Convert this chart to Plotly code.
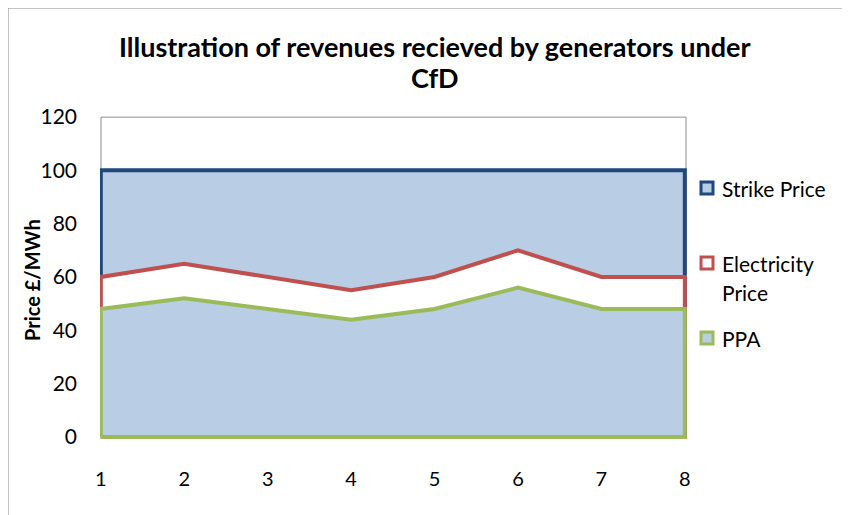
import plotly.graph_objects as go

periods = [1, 2, 3, 4, 5, 6, 7, 8]
strike_price = [100, 100, 100, 100, 100, 100, 100, 100]
electricity_price = [60, 65, 60, 55, 60, 70, 60, 60]
ppa = [48, 52, 48, 44, 48, 56, 48, 48]
y_ticks = [0, 20, 40, 60, 80, 100, 120]

series = [
    ("Strike Price", strike_price, "#B9CDE5", "#1F497D"),
    ("Electricity Price", electricity_price, "#FFFFFF", "#C0504D"),
    ("PPA", ppa, "#B9CDE5", "#9BBB59"),
]

fig = go.Figure()
for name, vals, fillc, linec in series:
    xs = [periods[0]] + periods + [periods[-1], periods[0]]
    ys = [0] + vals + [0, 0]
    fig.add_trace(go.Scatter(
        x=xs, y=ys, mode="lines", fill="toself", fillcolor=fillc,
        line=dict(color=linec, width=4), name=name, showlegend=False,
        hoverinfo="skip",
    ))

font_family = "Lato, 'Open Sans', sans-serif"

OFF = 8  # page body margin
W, H = 850 - OFF, 515 - OFF
# plot area in page pixels
L, R, T, B = 100, 689, 117, 441
def px(xp):
    return (xp - L) / (R - L)
def py(yp):
    return (B - yp) / (B - T)

legend_rows = [(188, ["Strike Price"]), (263, ["Electricity", "Price"]), (338, ["PPA"])]
shapes = [
    dict(type="rect", xref="paper", yref="paper", x0=px(101), x1=px(686), y0=py(437), y1=0.9995,
         line=dict(color="#8C8C8C", width=1), layer="below"),
    dict(type="rect", xref="paper", yref="paper", x0=px(8), x1=px(1000), y0=py(700), y1=py(8),
         line=dict(color="#8C8C8C", width=1), layer="below"),
]
annotations = []
for (name, vals, fillc, linec), (yc, lines) in zip(series, legend_rows):
    shapes.append(dict(type="rect", xref="paper", yref="paper",
                       x0=px(701), x1=px(713), y0=py(yc + 6), y1=py(yc - 6),
                       fillcolor=fillc, line=dict(color=linec, width=3)))
    for i, t in enumerate(lines):
        annotations.append(dict(text=t, xref="paper", yref="paper", x=px(720), y=py(yc + 29 * i),
                                xanchor="left", yanchor="middle", showarrow=False,
                                font=dict(family=font_family, size=21, color="#000000")))

title_lines = ["Illustration of revenues recieved by generators under", "CfD"]
for t, yc in zip(title_lines, [47, 78]):
    annotations.append(dict(text="<b>%s</b>" % t, xref="paper", yref="paper", x=px(435), y=py(yc),
                            xanchor="center", yanchor="middle", showarrow=False,
                            font=dict(family=font_family, size=27, color="#000000")))

annotations.append(dict(text="<b>Price £/MWh</b>", xref="paper", yref="paper", x=px(32), y=py(280),
                        xanchor="center", yanchor="middle", showarrow=False, textangle=-90,
                        font=dict(family=font_family, size=20, color="#000000")))

fig.update_layout(
    width=W, height=H,
    margin=dict(l=L - OFF, r=W - (R - OFF), t=T - OFF, b=H - (B - OFF), autoexpand=False),
    paper_bgcolor="white", plot_bgcolor="white",
    font=dict(family=font_family, size=20, color="#000000"),
    xaxis=dict(range=[0.99, 8.05], tickvals=periods, showgrid=False, zeroline=False,
               showline=False, ticks="", ticklabelstandoff=24, automargin=False,
               tickfont=dict(size=20)),
    yaxis=dict(range=[-1.5, 120], tickvals=y_ticks, showgrid=False,
               zeroline=False, showline=False, ticks="", ticklabelstandoff=22, automargin=False,
               tickfont=dict(size=21)),
    showlegend=False,
    shapes=shapes,
    annotations=annotations,
)

fig.write_html("out.html")
